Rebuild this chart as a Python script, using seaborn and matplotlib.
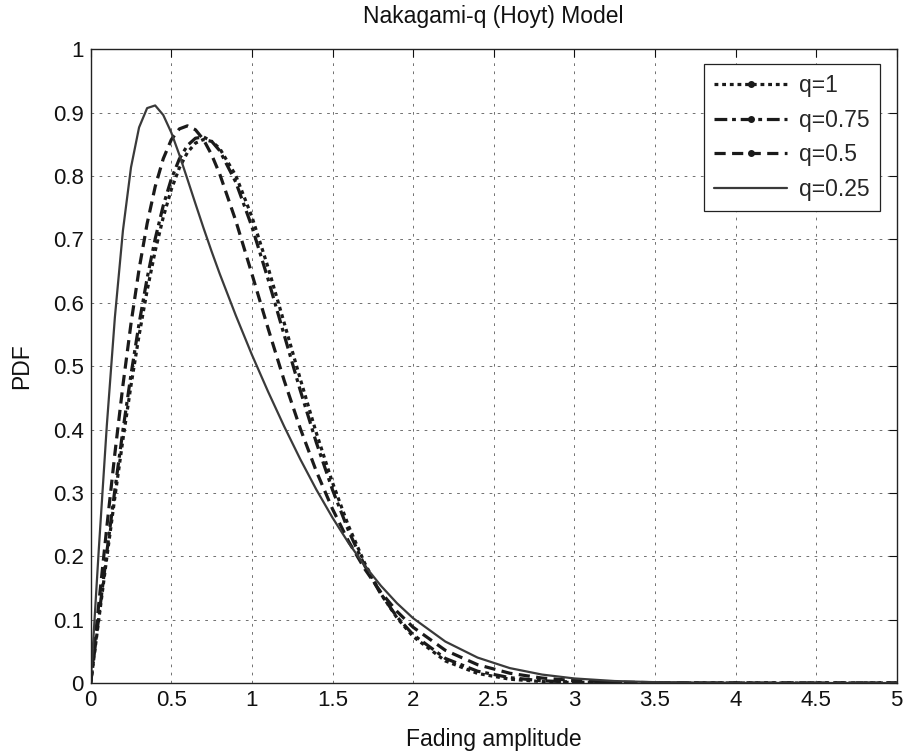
import numpy as np
import pandas as pd
import matplotlib
matplotlib.use("Agg")
import matplotlib.pyplot as plt
from matplotlib.lines import Line2D
import seaborn as sns

# ---- data (PDF of fading amplitude) ----
r = [0, 0.05, 0.1, 0.15, 0.2, 0.25, 0.3, 0.35, 0.4, 0.45, 0.5, 0.55, 0.6, 0.65,
     0.7, 0.75, 0.8, 0.9, 1.0, 1.1, 1.2, 1.3, 1.4, 1.5, 1.6, 1.7, 1.8, 1.9, 2.0,
     2.2, 2.4, 2.6, 2.8, 3.0, 3.25, 3.5, 4.0, 4.5, 5.0]

pdf_q1 = [0, 0.0998, 0.1980, 0.2933, 0.3843, 0.4697, 0.5484, 0.6193, 0.6817, 0.7350,
          0.7788, 0.8129, 0.8372, 0.8520, 0.8577, 0.8547, 0.8437, 0.8008, 0.7358,
          0.6560, 0.5686, 0.4798, 0.3944, 0.3162, 0.2474, 0.1890, 0.1410, 0.1028,
          0.0733, 0.0348, 0.0151, 0.0060, 0.0022, 0.0007, 0.0002, 0.0, 0.0, 0.0, 0.0]

pdf_q075 = [0, 0.1039, 0.2061, 0.3050, 0.3990, 0.4867, 0.5670, 0.6386, 0.7009, 0.7533,
            0.7953, 0.8270, 0.8483, 0.8597, 0.8617, 0.8549, 0.8401, 0.7904, 0.7202,
            0.6375, 0.5494, 0.4618, 0.3792, 0.3048, 0.2399, 0.1850, 0.1402, 0.1043,
            0.0763, 0.0388, 0.0186, 0.0084, 0.0035, 0.0014, 0.0004, 0.0001, 0.0, 0.0, 0.0]

pdf_q05 = [0, 0.1245, 0.2461, 0.3621, 0.4699, 0.5673, 0.6528, 0.7249, 0.7832, 0.8273,
           0.8574, 0.8744, 0.8792, 0.8730, 0.8574, 0.8337, 0.8035, 0.7295, 0.6456,
           0.5599, 0.4775, 0.4017, 0.3339, 0.2746, 0.2234, 0.1799, 0.1433, 0.1130,
           0.0880, 0.0516, 0.0289, 0.0154, 0.0078, 0.0038, 0.0014, 0.0005, 0.0, 0.0, 0.0]

pdf_q025 = [0, 0.2101, 0.4064, 0.5771, 0.7141, 0.8137, 0.8767, 0.9072, 0.9114, 0.8963,
            0.8686, 0.8335, 0.7951, 0.7562, 0.7179, 0.6811, 0.6460, 0.5801, 0.5180,
            0.4600, 0.4050, 0.3532, 0.3051, 0.2609, 0.2209, 0.1851, 0.1535, 0.1259,
            0.1023, 0.0654, 0.0401, 0.0235, 0.0133, 0.0072, 0.0031, 0.0013, 0.0002, 0.0, 0.0]

labels = ["q=1", "q=0.75", "q=0.5", "q=0.25"]
series = [pdf_q1, pdf_q075, pdf_q05, pdf_q025]

xticks = [0, 0.5, 1, 1.5, 2, 2.5, 3, 3.5, 4, 4.5, 5]
xticklabels = ["0", "0.5", "1", "1.5", "2", "2.5", "3", "3.5", "4", "4.5", "5"]
yticks = [0, 0.1, 0.2, 0.3, 0.4, 0.5, 0.6, 0.7, 0.8, 0.9, 1]
yticklabels = ["0", "0.1", "0.2", "0.3", "0.4", "0.5", "0.6", "0.7", "0.8", "0.9", "1"]

# ---- style ----
sns.set_style("white")
plt.rcParams["font.family"] = ["Liberation Sans", "DejaVu Sans"]
FS_TICK = 16
FS_LAB = 16.5

fig = plt.figure(figsize=(9.05, 7.52), dpi=100)
ax = fig.add_axes([90.7 / 905, (752 - 683) / 752, 806 / 905, 633.7 / 752])

styles = [
    dict(linestyle=(0, (1.2, 1.2)), linewidth=2.3, color="#1a1a1a"),
    dict(linestyle=(0, (4, 1.5, 1.2, 1.5)), linewidth=2.3, color="#1a1a1a"),
    dict(linestyle=(0, (3.5, 2)), linewidth=2.3, color="#1a1a1a"),
    dict(linestyle="-", linewidth=1.6, color="#3a3a3a"),
]

for lab, vals, st in zip(labels, series, styles):
    df = pd.DataFrame({"r": r, "pdf": vals})
    sns.lineplot(data=df, x="r", y="pdf", ax=ax, legend=False, **st)

ax.set_xlim(0, 5)
ax.set_ylim(0, 1)
ax.set_xticks(xticks)
ax.set_xticklabels(xticklabels)
ax.set_yticks(yticks)
ax.set_yticklabels(yticklabels)
ax.tick_params(direction="in", length=6, width=0.8, top=True, right=True,
               labelsize=FS_TICK, pad=5, colors="#111111")
ax.grid(True, color="#666666", linestyle=(0, (3, 6)), linewidth=0.65)
for s in ax.spines.values():
    s.set_color("#222222")
    s.set_linewidth(1.0)

ax.set_title("Nakagami-q (Hoyt) Model", fontsize=FS_LAB, pad=19, color="#111111")
ax.set_xlabel("Fading amplitude", fontsize=FS_LAB, labelpad=12, color="#111111")
ax.set_ylabel("PDF", fontsize=FS_LAB, labelpad=14, color="#111111")

handles = []
for lab, st, mk in zip(labels, styles, [".", ".", ".", ""]):
    handles.append(Line2D([0], [0], marker=mk, markersize=8, **st))
leg = ax.legend(handles, labels, loc="upper right", bbox_to_anchor=(0.979, 0.977),
                borderaxespad=0, fontsize=FS_LAB, handlelength=3.2, handletextpad=0.5,
                labelspacing=0.5, borderpad=0.45, fancybox=False, framealpha=1,
                edgecolor="#222222", numpoints=1)
leg.get_frame().set_linewidth(0.9)

fig.savefig("out.png", dpi=100)
